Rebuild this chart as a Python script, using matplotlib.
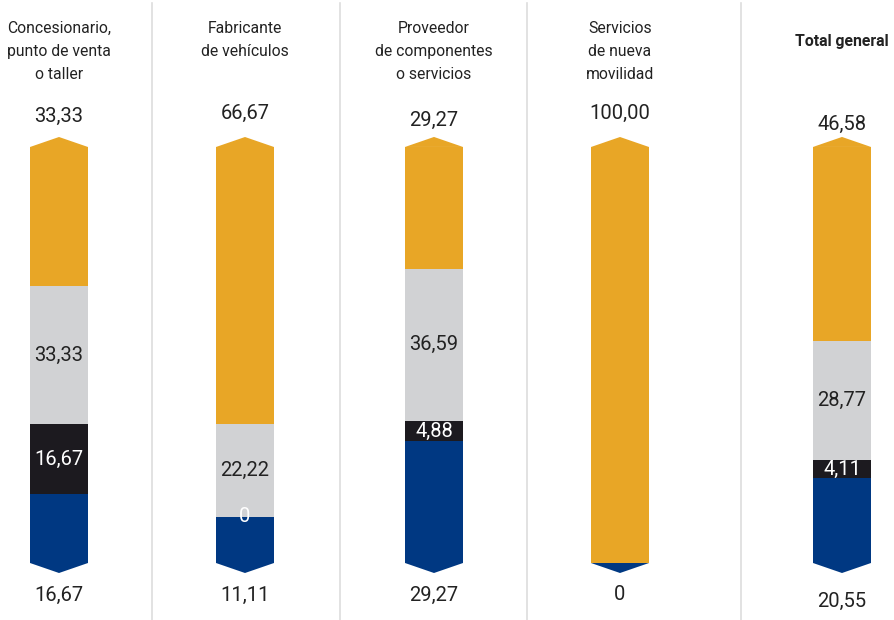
import matplotlib.pyplot as plt
from matplotlib.patches import Polygon

plt.rcParams['font.family'] = ['Roboto', 'DejaVu Sans']

# data (percent)
categories = ["Concesionario,\npunto de venta\no taller", "Fabricante\nde vehículos",
              "Proveedor\nde componentes\no servicios", "Servicios\nde nueva\nmovilidad",
              "Total general"]
top_vals = [33.33, 66.67, 29.27, 100.00, 46.58]      # orange
mid_vals = [33.33, 22.22, 36.59, 0.0, 28.77]         # gray
dark_vals = [16.67, 0.0, 4.88, 0.0, 4.11]            # black
bottom_vals = [16.67, 11.11, 29.27, 0.0, 20.55]      # blue

# inner labels shown (None = no label)
mid_labels = ["33,33", "22,22", "36,59", None, "28,77"]
dark_labels = ["16,67", "0", "4,88", None, "4,11"]

colors = {'top': '#E8A626', 'mid': '#D1D2D4', 'dark': '#1C1A1F', 'bottom': '#003882'}
text_col = '#222222'

# layout (pixels)
W, H = 894, 620
bar_top_px, bar_bot_px = 147, 563
centers = [59, 245, 434, 620, 842]
bar_w = 58
tip = 10 / (bar_bot_px - bar_top_px) * 100   # chevron height in percent units
dividers = [152, 340, 527, 741]
top_label_off = [31, 34, 27, 34, 23]    # px above bar top
bot_label_off = [32, 32, 32, 32, 38]    # px below bar bottom
header_top = [21, 21, 21, 21, 34]
num_size = 14.5

def fmt(v):
    return f"{v:.2f}".replace('.', ',') if v != 0 else "0"

fig = plt.figure(figsize=(W / 100, H / 100), dpi=100)
ax = fig.add_axes([0, (H - bar_bot_px) / H, 1, (bar_bot_px - bar_top_px) / H])
ax.set_xlim(0, W)
ax.set_ylim(0, 100)
ax.axis('off')
px = 100 / (bar_bot_px - bar_top_px)   # percent per pixel

# divider lines (full height)
for d in dividers:
    ax.plot([d, d], [100 + 144 * px, -57 * px], color='#DDDDDD', lw=1.2,
            clip_on=False, zorder=0)

b1 = bottom_vals
b2 = [a + b for a, b in zip(b1, dark_vals)]
b3 = [a + b for a, b in zip(b2, mid_vals)]
ax.bar(centers, bottom_vals, width=bar_w, color=colors['bottom'], linewidth=0)
ax.bar(centers, dark_vals, bottom=b1, width=bar_w, color=colors['dark'], linewidth=0)
ax.bar(centers, mid_vals, bottom=b2, width=bar_w, color=colors['mid'], linewidth=0)
ax.bar(centers, top_vals, bottom=b3, width=bar_w, color=colors['top'], linewidth=0)

for i, c in enumerate(centers):
    l, r = c - bar_w / 2, c + bar_w / 2
    top_end = b3[i] + top_vals[i]
    ax.add_patch(Polygon([(l, top_end), (c, top_end + tip), (r, top_end)],
                         closed=True, color=colors['top'], lw=0, clip_on=False))
    ax.add_patch(Polygon([(l, 0), (c, -tip), (r, 0)],
                         closed=True, color=colors['bottom'], lw=0, clip_on=False))
    # outer labels
    ax.text(c, top_end + top_label_off[i] * px, fmt(top_vals[i]), ha='center',
            va='center', fontsize=num_size, color=text_col)
    ax.text(c, -bot_label_off[i] * px, fmt(bottom_vals[i]), ha='center',
            va='center', fontsize=num_size, color=text_col)
    # inner labels
    if mid_labels[i]:
        ax.text(c, b2[i] + mid_vals[i] / 2, mid_labels[i], ha='center', va='center',
                fontsize=num_size, color=text_col)
    if dark_labels[i]:
        ax.text(c, b1[i] + dark_vals[i] / 2, dark_labels[i], ha='center', va='center',
                fontsize=num_size, color='white')
    # header
    bold = i == len(centers) - 1
    ax.text(c, 100 + (bar_top_px - header_top[i]) * px, categories[i], ha='center',
            va='top', fontsize=11.3, color=text_col, linespacing=1.65,
            fontweight='bold' if bold else 'normal')

fig.savefig('out.png', dpi=100)
